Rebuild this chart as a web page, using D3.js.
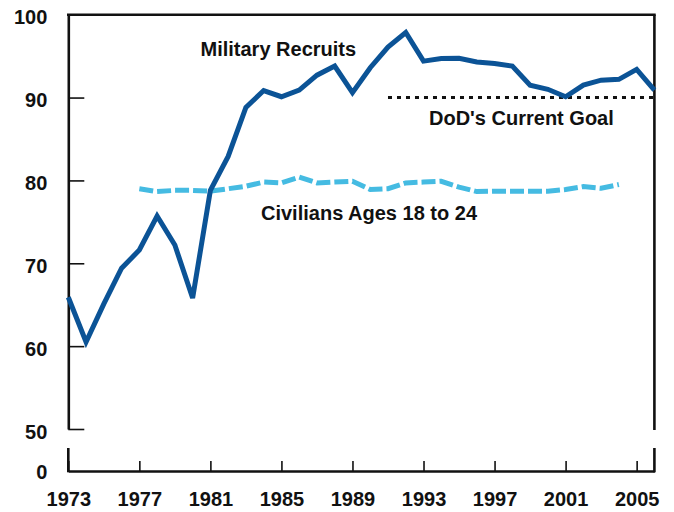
<!DOCTYPE html>
<html>
<head>
<meta charset="utf-8">
<script src="https://cdn.jsdelivr.net/npm/d3@7"></script>
<style>
  html, body { margin: 0; padding: 0; background: #fff; }
  svg { display: block; }
  text { font-family: "Liberation Sans", Arial, sans-serif; font-weight: bold; fill: #111; }
</style>
</head>
<body>
<svg id="chart" width="674" height="512"></svg>
<script>
// ---- data ----
const militaryYears = [1973,1974,1975,1976,1977,1978,1979,1980,1981,1982,1983,1984,1985,1986,1987,1988,1989,1990,1991,1992,1993,1994,1995,1996,1997,1998,1999,2000,2001,2002,2003,2004,2005,2006];
const militaryValues = [65.9,60.5,65.1,69.4,71.6,75.7,72.2,65.8,78.8,82.9,88.8,90.85,90.1,90.9,92.7,93.8,90.6,93.6,96.1,97.85,94.4,94.7,94.75,94.3,94.1,93.8,91.5,91.0,90.1,91.5,92.1,92.2,93.4,90.9];
const civilianYears = [1977,1978,1979,1980,1981,1982,1983,1984,1985,1986,1987,1988,1989,1990,1991,1992,1993,1994,1995,1996,1997,1998,1999,2000,2001,2002,2003,2004];
const civilianValues = [79.0,78.65,78.8,78.8,78.7,79.0,79.3,79.8,79.7,80.4,79.7,79.8,79.9,78.9,79.0,79.7,79.8,79.9,79.2,78.65,78.7,78.7,78.7,78.7,78.9,79.25,79.05,79.5];
const goalYears = [1991, 2006];
const goalValue = 90;
const xTickValues = [1973,1977,1981,1985,1989,1993,1997,2001,2005];
const yTickValues = [50,60,70,80,90,100];
const labels = ["Military Recruits", "DoD's Current Goal", "Civilians Ages 18 to 24"];

// ---- layout ----
const svg = d3.select("#chart");
const x = d3.scaleLinear().domain([1973, 2006]).range([68.3, 654.4]);
const y = d3.scaleLinear().domain([50, 100]).range([429, 14.7]);
const xAxisY = 471;
const breakTop = 448;

const darkBlue = "#0b5396";
const lightBlue = "#45bbe2";

// y axis
const yAxis = svg.append("g")
  .attr("transform", `translate(${x.range()[0]},0)`)
  .call(d3.axisLeft(y).tickValues(yTickValues).tickSizeInner(-16).tickSizeOuter(0).tickPadding(21).tickFormat(d3.format("d")));
yAxis.select(".domain").attr("stroke", "#111").attr("stroke-width", 2.6);
yAxis.selectAll(".tick line").attr("stroke", "#111").attr("stroke-width", 1.6);
yAxis.selectAll(".tick text").attr("font-size", 20).attr("dy", null).attr("y", 9)
  .style("font-family", "'Liberation Sans', Arial, sans-serif").style("font-weight", "bold").attr("fill", "#111");

// zero label + break segment on left
svg.append("text").attr("x", x.range()[0] - 21).attr("y", xAxisY + 8)
  .attr("text-anchor", "end").attr("font-size", 20).text("0");
svg.append("line").attr("x1", x.range()[0]).attr("x2", x.range()[0])
  .attr("y1", breakTop).attr("y2", xAxisY + 1.3).attr("stroke", "#111").attr("stroke-width", 2.6);

// x axis
const xAxis = svg.append("g")
  .attr("transform", `translate(0,${xAxisY})`)
  .call(d3.axisBottom(x).tickValues(xTickValues).tickSizeInner(-10).tickSizeOuter(0).tickPadding(21).tickFormat(d3.format("d")));
xAxis.select(".domain").attr("stroke", "#111").attr("stroke-width", 2.6);
xAxis.selectAll(".tick line").attr("stroke", "#111").attr("stroke-width", 1.6);
xAxis.selectAll(".tick text").attr("font-size", 20)
  .style("font-family", "'Liberation Sans', Arial, sans-serif").style("font-weight", "bold").attr("fill", "#111");

// top and right border
svg.append("line").attr("x1", x.range()[0] - 1.3).attr("x2", x.range()[1] + 1.3)
  .attr("y1", y(100)).attr("y2", y(100)).attr("stroke", "#111").attr("stroke-width", 2.6);
svg.append("line").attr("x1", x.range()[1]).attr("x2", x.range()[1])
  .attr("y1", y(100)).attr("y2", y(50) + 1).attr("stroke", "#111").attr("stroke-width", 2.6);
svg.append("line").attr("x1", x.range()[1]).attr("x2", x.range()[1])
  .attr("y1", breakTop).attr("y2", xAxisY + 1.3).attr("stroke", "#111").attr("stroke-width", 2.6);

// goal line
svg.append("line")
  .attr("x1", x(goalYears[0])).attr("x2", x(goalYears[1]))
  .attr("y1", y(goalValue)).attr("y2", y(goalValue))
  .attr("stroke", "#111").attr("stroke-width", 3).attr("stroke-dasharray", "4,5");

// lines
const line = d3.line().x(d => x(d[0])).y(d => y(d[1]));
svg.append("path")
  .datum(civilianYears.map((yr, i) => [yr, civilianValues[i]]))
  .attr("d", line).attr("fill", "none").attr("stroke", lightBlue)
  .attr("stroke-width", 5).attr("stroke-dasharray", "14,4");
svg.append("path")
  .datum(militaryYears.map((yr, i) => [yr, militaryValues[i]]))
  .attr("d", line).attr("fill", "none").attr("stroke", darkBlue)
  .attr("stroke-width", 5);

// annotation labels
svg.append("text").attr("x", 200.5).attr("y", 56).attr("font-size", 20).text(labels[0]);
svg.append("text").attr("x", 429).attr("y", 125).attr("font-size", 20).text(labels[1]);
svg.append("text").attr("x", 261).attr("y", 220).attr("font-size", 20).text(labels[2]);
</script>
</body>
</html>
